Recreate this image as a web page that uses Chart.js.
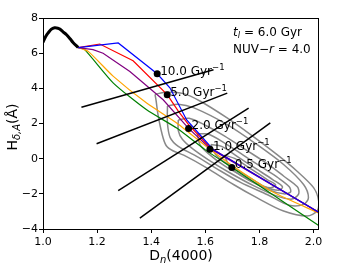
<!DOCTYPE html>
<html>
<head>
<meta charset="utf-8">
<script src="https://cdn.jsdelivr.net/npm/chart.js@4"></script>
<style>
  body { margin: 0; background: #fff; }
  canvas { display: block; }
</style>
</head>
<body>
<canvas id="c" width="343" height="264"></canvas>
<script>
// early track (black, thick)
const earlyTrack = [[1.0, 6.62], [1.01, 6.95], [1.019, 7.15], [1.03, 7.35], [1.043, 7.44], [1.055, 7.42],
  [1.062, 7.37], [1.075, 7.2], [1.087, 7.05], [1.1, 6.82], [1.111, 6.61], [1.13, 6.32]];

// quenching tracks, one per rate
const trackBlue = [[1.13, 6.32], [1.278, 6.58], [1.422, 4.83], [1.469, 4.03], [1.531, 2.2], [1.58, 1.36],
  [1.63, 0.5], [2.02, -3.06]];
const trackRed = [[1.13, 6.32], [1.21, 6.52], [1.333, 5.57], [1.459, 3.64], [1.5, 2.7], [1.54, 1.9],
  [1.62, 0.6], [2.02, -3.06]];
const trackPurple = [[1.13, 6.32], [1.185, 6.2], [1.222, 6.0], [1.321, 4.96], [1.444, 3.35], [1.538, 1.72],
  [1.62, 0.55], [2.02, -3.06]];
const trackOrange = [[1.13, 6.32], [1.167, 6.1], [1.26, 4.68], [1.383, 3.16], [1.494, 2.03], [1.617, 0.53],
  [1.7, -0.4], [1.85, -1.9], [2.02, -3.1]];
const trackGreen = [[1.13, 6.32], [1.154, 6.2], [1.26, 4.3], [1.383, 2.78], [1.494, 1.74], [1.6, 0.5],
  [1.698, -0.5], [2.02, -3.81]];

// marked points and their rates
const rates = ['10.0', '5.0', '2.0', '1.0', '0.5'];
const rateX = [1.422, 1.459, 1.538, 1.617, 1.698];
const rateY = [4.83, 3.64, 1.72, 0.53, -0.5];

// straight black lines
const line1 = [[1.142, 2.92], [1.63, 5.06]];
const line2 = [[1.198, 0.85], [1.681, 3.73]];
const line3 = [[1.278, -1.82], [1.76, 2.88]];
const line4 = [[1.358, -3.38], [1.84, 2.03]];

// observed density contours (gray)
const contour1 = [[1.414, 3.65], [1.45, 3.78], [1.519, 3.7], [1.58, 3.28], [1.679, 2.33], [1.766, 1.38],
  [1.864, 0.24], [1.938, -0.7], [2.0, -1.65], [2.019, -2.41], [2.013, -2.98], [1.976, -3.26], [1.889, -2.98],
  [1.79, -2.22], [1.704, -1.47], [1.605, -0.52], [1.52, 0.2], [1.48, 0.45], [1.455, 0.75], [1.44, 1.4],
  [1.425, 2.5], [1.418, 3.3], [1.414, 3.65]];
const contour2 = [[1.46, 3.0], [1.50, 3.1], [1.556, 2.9], [1.679, 1.95], [1.79, 0.81], [1.889, -0.33],
  [1.963, -1.47], [1.981, -2.22], [1.963, -2.6], [1.91, -2.65], [1.83, -2.05], [1.73, -1.35],
  [1.64, -0.55], [1.56, 0.2], [1.5, 0.7], [1.47, 1.2], [1.46, 2.0], [1.46, 3.0]];
const contour3 = [[1.50, 2.2], [1.54, 2.3], [1.60, 1.9], [1.67, 1.3], [1.75, 0.5], [1.83, -0.3], [1.89, -1.0],
  [1.94, -1.6], [1.945, -2.0], [1.92, -2.3], [1.86, -2.1], [1.78, -1.55], [1.69, -0.8], [1.61, -0.05],
  [1.55, 0.6], [1.515, 1.1], [1.50, 1.6], [1.50, 2.2]];
const contour4 = [[1.57, 1.4], [1.61, 1.4], [1.67, 0.9], [1.74, 0.2], [1.81, -0.5], [1.87, -1.1], [1.91, -1.6],
  [1.915, -1.9], [1.89, -2.0], [1.83, -1.75], [1.75, -1.1], [1.67, -0.4], [1.61, 0.3], [1.58, 0.8],
  [1.57, 1.4]];
const contour5 = [[1.62, 0.8], [1.66, 0.7], [1.72, 0.1], [1.79, -0.6], [1.85, -1.2], [1.885, -1.6], [1.87, -1.8],
  [1.82, -1.6], [1.75, -0.95], [1.69, -0.4], [1.64, 0.2], [1.62, 0.8]];
const contour6 = [[1.67, 0.2], [1.71, 0.0], [1.77, -0.6], [1.83, -1.2], [1.86, -1.5], [1.84, -1.65], [1.79, -1.45],
  [1.73, -0.95], [1.69, -0.45], [1.67, 0.2]];

const FONT = '"DejaVu Sans", sans-serif';
const pts = arr => arr.map(p => ({ x: p[0], y: p[1] }));

const lineSet = (data, color, width, order, tension) => ({
  data: pts(data),
  showLine: true,
  borderColor: color,
  borderWidth: width,
  pointRadius: 0,
  tension: tension || 0,
  fill: false,
  order: order
});

const datasets = [
  ...[contour1, contour2, contour3, contour4, contour5, contour6].map(c => lineSet(c, '#888888', 1.5, 20, 0.3)),
  lineSet(trackGreen, '#008000', 1.2, 15, 0.2),
  lineSet(trackOrange, '#ffa500', 1.2, 14, 0.2),
  lineSet(trackPurple, '#800080', 1.2, 13),
  lineSet(trackRed, '#ff0000', 1.2, 12),
  lineSet(trackBlue, '#0000ff', 1.2, 11),
  lineSet(earlyTrack, '#000000', 3, 10, 0.3),
  ...[line1, line2, line3, line4].map(l => lineSet(l, '#000000', 1.5, 5)),
  {
    data: rateX.map((x, i) => ({ x: x, y: rateY[i] })),
    showLine: false,
    pointRadius: 3.5,
    pointBackgroundColor: '#000',
    pointBorderWidth: 0,
    order: 1
  }
];

// draws a run of text pieces (sub/superscripts, italics) starting at x
function drawRich(ctx, parts, x, y, align) {
  let total = 0;
  parts.forEach(p => {
    ctx.font = (p.italic ? 'italic ' : '') + p.size + 'px ' + FONT;
    p.w = ctx.measureText(p.t).width;
    total += p.w;
  });
  let cx = align === 'center' ? x - total / 2 : x;
  ctx.textBaseline = 'alphabetic';
  ctx.textAlign = 'left';
  parts.forEach(p => {
    ctx.font = (p.italic ? 'italic ' : '') + p.size + 'px ' + FONT;
    ctx.fillText(p.t, cx, y + (p.dy || 0));
    cx += p.w;
  });
}

const extras = {
  id: 'extras',
  afterDraw(chart) {
    const { ctx, chartArea: a, scales } = chart;
    ctx.save();
    ctx.strokeStyle = '#000';
    ctx.lineWidth = 1;
    ctx.strokeRect(a.left + 0.5, a.top + 0.5, a.right - a.left - 1, a.bottom - a.top);
    ctx.fillStyle = '#000';

    rates.forEach((r, i) => {
      const px = scales.x.getPixelForValue(rateX[i]);
      const py = scales.y.getPixelForValue(rateY[i]);
      drawRich(ctx, [
        { t: r + ' Gyr', size: 12 },
        { t: '\u22121', size: 8.5, dy: -5 }
      ], px + 3, py + 1);
    });

    drawRich(ctx, [
      { t: 't', size: 12, italic: true },
      { t: 'l', size: 8.5, italic: true, dy: 2 },
      { t: ' = 6.0 Gyr', size: 12 }
    ], 233, 36);
    drawRich(ctx, [
      { t: 'NUV\u2212', size: 12 },
      { t: 'r', size: 12, italic: true },
      { t: ' = 4.0', size: 12 }
    ], 233, 53);

    // axis titles
    drawRich(ctx, [
      { t: 'D', size: 14 },
      { t: 'n', size: 10, italic: true, dy: 3 },
      { t: '(4000)', size: 14 }
    ], (a.left + a.right) / 2, 260, 'center');

    ctx.translate(17, 127);
    ctx.rotate(-Math.PI / 2);
    drawRich(ctx, [
      { t: 'H', size: 14 },
      { t: '\u03b4,A', size: 10, italic: true, dy: 3 },
      { t: '(\u00c5)', size: 14 }
    ], 0, 0, 'center');
    ctx.restore();
  }
};

const fmtY = v => (v < 0 ? '\u2212' + Math.abs(v) : String(v));

new Chart(document.getElementById('c'), {
  type: 'scatter',
  data: { datasets: datasets },
  options: {
    responsive: false,
    animation: false,
    layout: { padding: { left: 0, right: 24, top: 18, bottom: 0 } },
    plugins: { legend: { display: false }, tooltip: { enabled: false } },
    scales: {
      x: {
        type: 'linear',
        min: 1.0,
        max: 2.02,
        afterFit: s => { s.height = 35; },
        border: { display: false },
        grid: { drawOnChartArea: false, drawTicks: true, tickLength: 4, color: '#000' },
        ticks: {
          stepSize: 0.2,
          includeBounds: false,
          padding: 3,
          color: '#000',
          font: { family: FONT, size: 11 },
          maxRotation: 0,
          callback: v => v.toFixed(1)
        }
      },
      y: {
        type: 'linear',
        min: -4,
        max: 8,
        afterFit: s => { s.width = 43; },
        border: { display: false },
        grid: { drawOnChartArea: false, drawTicks: true, tickLength: 4, color: '#000' },
        ticks: {
          stepSize: 2,
          padding: 1,
          color: '#000',
          font: { family: FONT, size: 11 },
          callback: fmtY
        }
      }
    }
  },
  plugins: [extras]
});
</script>
</body>
</html>
